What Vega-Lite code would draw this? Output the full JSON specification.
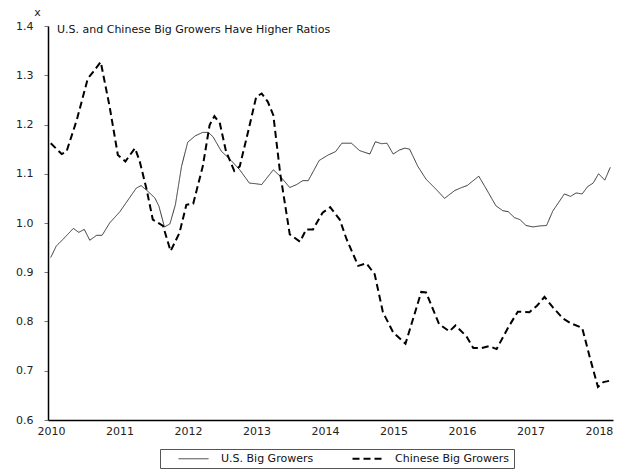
{
  "$schema": "https://vega.github.io/schema/vega-lite/v6.json",
  "width": 565,
  "height": 394,
  "autosize": {"type": "none"},
  "padding": {"left": 48, "top": 26, "right": 5, "bottom": 51},
  "background": "white",
  "title": {
    "text": "U.S. and Chinese Big Growers Have Higher Ratios",
    "anchor": "start",
    "frame": "group",
    "orient": "top",
    "offset": 0,
    "baseline": "top",
    "dx": 9,
    "dy": 29,
    "font": "DejaVu Sans",
    "fontSize": 11,
    "fontWeight": "normal",
    "color": "#111"
  },
  "config": {
    "view": {"stroke": null},
    "font": "DejaVu Sans"
  },
  "data": {
    "values": [
      {"s": "U.S. Big Growers", "t": 2010.04, "v": 0.930},
      {"s": "U.S. Big Growers", "t": 2010.12, "v": 0.953},
      {"s": "U.S. Big Growers", "t": 2010.22, "v": 0.967},
      {"s": "U.S. Big Growers", "t": 2010.37, "v": 0.989},
      {"s": "U.S. Big Growers", "t": 2010.45, "v": 0.981},
      {"s": "U.S. Big Growers", "t": 2010.53, "v": 0.987},
      {"s": "U.S. Big Growers", "t": 2010.61, "v": 0.965},
      {"s": "U.S. Big Growers", "t": 2010.71, "v": 0.975},
      {"s": "U.S. Big Growers", "t": 2010.79, "v": 0.975},
      {"s": "U.S. Big Growers", "t": 2010.90, "v": 1.000},
      {"s": "U.S. Big Growers", "t": 2011.05, "v": 1.023},
      {"s": "U.S. Big Growers", "t": 2011.14, "v": 1.041},
      {"s": "U.S. Big Growers", "t": 2011.29, "v": 1.071},
      {"s": "U.S. Big Growers", "t": 2011.36, "v": 1.076},
      {"s": "U.S. Big Growers", "t": 2011.46, "v": 1.064},
      {"s": "U.S. Big Growers", "t": 2011.56, "v": 1.051},
      {"s": "U.S. Big Growers", "t": 2011.62, "v": 1.034},
      {"s": "U.S. Big Growers", "t": 2011.70, "v": 0.992},
      {"s": "U.S. Big Growers", "t": 2011.78, "v": 0.998},
      {"s": "U.S. Big Growers", "t": 2011.86, "v": 1.037},
      {"s": "U.S. Big Growers", "t": 2011.95, "v": 1.115},
      {"s": "U.S. Big Growers", "t": 2012.04, "v": 1.164},
      {"s": "U.S. Big Growers", "t": 2012.15, "v": 1.177},
      {"s": "U.S. Big Growers", "t": 2012.26, "v": 1.184},
      {"s": "U.S. Big Growers", "t": 2012.34, "v": 1.184},
      {"s": "U.S. Big Growers", "t": 2012.41, "v": 1.175},
      {"s": "U.S. Big Growers", "t": 2012.53, "v": 1.146},
      {"s": "U.S. Big Growers", "t": 2012.68, "v": 1.126},
      {"s": "U.S. Big Growers", "t": 2012.80, "v": 1.108},
      {"s": "U.S. Big Growers", "t": 2012.94, "v": 1.081},
      {"s": "U.S. Big Growers", "t": 2013.02, "v": 1.080},
      {"s": "U.S. Big Growers", "t": 2013.12, "v": 1.078},
      {"s": "U.S. Big Growers", "t": 2013.29, "v": 1.108},
      {"s": "U.S. Big Growers", "t": 2013.39, "v": 1.095},
      {"s": "U.S. Big Growers", "t": 2013.53, "v": 1.072},
      {"s": "U.S. Big Growers", "t": 2013.63, "v": 1.078},
      {"s": "U.S. Big Growers", "t": 2013.72, "v": 1.086},
      {"s": "U.S. Big Growers", "t": 2013.80, "v": 1.086},
      {"s": "U.S. Big Growers", "t": 2013.96, "v": 1.127},
      {"s": "U.S. Big Growers", "t": 2014.09, "v": 1.138},
      {"s": "U.S. Big Growers", "t": 2014.20, "v": 1.145},
      {"s": "U.S. Big Growers", "t": 2014.29, "v": 1.162},
      {"s": "U.S. Big Growers", "t": 2014.43, "v": 1.162},
      {"s": "U.S. Big Growers", "t": 2014.55, "v": 1.147},
      {"s": "U.S. Big Growers", "t": 2014.70, "v": 1.140},
      {"s": "U.S. Big Growers", "t": 2014.78, "v": 1.165},
      {"s": "U.S. Big Growers", "t": 2014.87, "v": 1.161},
      {"s": "U.S. Big Growers", "t": 2014.95, "v": 1.162},
      {"s": "U.S. Big Growers", "t": 2015.04, "v": 1.140},
      {"s": "U.S. Big Growers", "t": 2015.13, "v": 1.148},
      {"s": "U.S. Big Growers", "t": 2015.21, "v": 1.152},
      {"s": "U.S. Big Growers", "t": 2015.28, "v": 1.150},
      {"s": "U.S. Big Growers", "t": 2015.40, "v": 1.115},
      {"s": "U.S. Big Growers", "t": 2015.52, "v": 1.089},
      {"s": "U.S. Big Growers", "t": 2015.67, "v": 1.068},
      {"s": "U.S. Big Growers", "t": 2015.79, "v": 1.050},
      {"s": "U.S. Big Growers", "t": 2015.94, "v": 1.066},
      {"s": "U.S. Big Growers", "t": 2016.04, "v": 1.072},
      {"s": "U.S. Big Growers", "t": 2016.12, "v": 1.076},
      {"s": "U.S. Big Growers", "t": 2016.29, "v": 1.095},
      {"s": "U.S. Big Growers", "t": 2016.40, "v": 1.069},
      {"s": "U.S. Big Growers", "t": 2016.54, "v": 1.035},
      {"s": "U.S. Big Growers", "t": 2016.64, "v": 1.025},
      {"s": "U.S. Big Growers", "t": 2016.72, "v": 1.023},
      {"s": "U.S. Big Growers", "t": 2016.81, "v": 1.011},
      {"s": "U.S. Big Growers", "t": 2016.89, "v": 1.007},
      {"s": "U.S. Big Growers", "t": 2016.98, "v": 0.995},
      {"s": "U.S. Big Growers", "t": 2017.08, "v": 0.992},
      {"s": "U.S. Big Growers", "t": 2017.18, "v": 0.994},
      {"s": "U.S. Big Growers", "t": 2017.28, "v": 0.995},
      {"s": "U.S. Big Growers", "t": 2017.37, "v": 1.024},
      {"s": "U.S. Big Growers", "t": 2017.54, "v": 1.059},
      {"s": "U.S. Big Growers", "t": 2017.63, "v": 1.054},
      {"s": "U.S. Big Growers", "t": 2017.71, "v": 1.061},
      {"s": "U.S. Big Growers", "t": 2017.80, "v": 1.059},
      {"s": "U.S. Big Growers", "t": 2017.88, "v": 1.074},
      {"s": "U.S. Big Growers", "t": 2017.96, "v": 1.081},
      {"s": "U.S. Big Growers", "t": 2018.04, "v": 1.100},
      {"s": "U.S. Big Growers", "t": 2018.13, "v": 1.087},
      {"s": "U.S. Big Growers", "t": 2018.21, "v": 1.113},
      {"s": "Chinese Big Growers", "t": 2010.04, "v": 1.162},
      {"s": "Chinese Big Growers", "t": 2010.20, "v": 1.140},
      {"s": "Chinese Big Growers", "t": 2010.27, "v": 1.145},
      {"s": "Chinese Big Growers", "t": 2010.42, "v": 1.209},
      {"s": "Chinese Big Growers", "t": 2010.58, "v": 1.293},
      {"s": "Chinese Big Growers", "t": 2010.66, "v": 1.307},
      {"s": "Chinese Big Growers", "t": 2010.77, "v": 1.327},
      {"s": "Chinese Big Growers", "t": 2010.90, "v": 1.236},
      {"s": "Chinese Big Growers", "t": 2011.02, "v": 1.138},
      {"s": "Chinese Big Growers", "t": 2011.13, "v": 1.125},
      {"s": "Chinese Big Growers", "t": 2011.27, "v": 1.152},
      {"s": "Chinese Big Growers", "t": 2011.34, "v": 1.125},
      {"s": "Chinese Big Growers", "t": 2011.44, "v": 1.068},
      {"s": "Chinese Big Growers", "t": 2011.53, "v": 1.007},
      {"s": "Chinese Big Growers", "t": 2011.68, "v": 0.994},
      {"s": "Chinese Big Growers", "t": 2011.79, "v": 0.943},
      {"s": "Chinese Big Growers", "t": 2011.92, "v": 0.980},
      {"s": "Chinese Big Growers", "t": 2012.02, "v": 1.037},
      {"s": "Chinese Big Growers", "t": 2012.12, "v": 1.039},
      {"s": "Chinese Big Growers", "t": 2012.26, "v": 1.115},
      {"s": "Chinese Big Growers", "t": 2012.36, "v": 1.199},
      {"s": "Chinese Big Growers", "t": 2012.43, "v": 1.217},
      {"s": "Chinese Big Growers", "t": 2012.51, "v": 1.202},
      {"s": "Chinese Big Growers", "t": 2012.60, "v": 1.145},
      {"s": "Chinese Big Growers", "t": 2012.72, "v": 1.106},
      {"s": "Chinese Big Growers", "t": 2012.80, "v": 1.115},
      {"s": "Chinese Big Growers", "t": 2012.94, "v": 1.196},
      {"s": "Chinese Big Growers", "t": 2013.04, "v": 1.256},
      {"s": "Chinese Big Growers", "t": 2013.12, "v": 1.263},
      {"s": "Chinese Big Growers", "t": 2013.21, "v": 1.246},
      {"s": "Chinese Big Growers", "t": 2013.29, "v": 1.219},
      {"s": "Chinese Big Growers", "t": 2013.39, "v": 1.101},
      {"s": "Chinese Big Growers", "t": 2013.53, "v": 0.977},
      {"s": "Chinese Big Growers", "t": 2013.68, "v": 0.962},
      {"s": "Chinese Big Growers", "t": 2013.77, "v": 0.987},
      {"s": "Chinese Big Growers", "t": 2013.87, "v": 0.987},
      {"s": "Chinese Big Growers", "t": 2014.01, "v": 1.021},
      {"s": "Chinese Big Growers", "t": 2014.12, "v": 1.032},
      {"s": "Chinese Big Growers", "t": 2014.26, "v": 1.007},
      {"s": "Chinese Big Growers", "t": 2014.36, "v": 0.967},
      {"s": "Chinese Big Growers", "t": 2014.53, "v": 0.913},
      {"s": "Chinese Big Growers", "t": 2014.65, "v": 0.918},
      {"s": "Chinese Big Growers", "t": 2014.77, "v": 0.896},
      {"s": "Chinese Big Growers", "t": 2014.89, "v": 0.819},
      {"s": "Chinese Big Growers", "t": 2015.04, "v": 0.778},
      {"s": "Chinese Big Growers", "t": 2015.22, "v": 0.755},
      {"s": "Chinese Big Growers", "t": 2015.33, "v": 0.805},
      {"s": "Chinese Big Growers", "t": 2015.45, "v": 0.860},
      {"s": "Chinese Big Growers", "t": 2015.52, "v": 0.859},
      {"s": "Chinese Big Growers", "t": 2015.71, "v": 0.795},
      {"s": "Chinese Big Growers", "t": 2015.86, "v": 0.780},
      {"s": "Chinese Big Growers", "t": 2015.95, "v": 0.792},
      {"s": "Chinese Big Growers", "t": 2016.11, "v": 0.770},
      {"s": "Chinese Big Growers", "t": 2016.21, "v": 0.746},
      {"s": "Chinese Big Growers", "t": 2016.33, "v": 0.746},
      {"s": "Chinese Big Growers", "t": 2016.44, "v": 0.750},
      {"s": "Chinese Big Growers", "t": 2016.55, "v": 0.744},
      {"s": "Chinese Big Growers", "t": 2016.72, "v": 0.788},
      {"s": "Chinese Big Growers", "t": 2016.86, "v": 0.820},
      {"s": "Chinese Big Growers", "t": 2017.03, "v": 0.819},
      {"s": "Chinese Big Growers", "t": 2017.14, "v": 0.832},
      {"s": "Chinese Big Growers", "t": 2017.25, "v": 0.850},
      {"s": "Chinese Big Growers", "t": 2017.37, "v": 0.829},
      {"s": "Chinese Big Growers", "t": 2017.52, "v": 0.806},
      {"s": "Chinese Big Growers", "t": 2017.64, "v": 0.796},
      {"s": "Chinese Big Growers", "t": 2017.80, "v": 0.787},
      {"s": "Chinese Big Growers", "t": 2017.91, "v": 0.728},
      {"s": "Chinese Big Growers", "t": 2018.03, "v": 0.667},
      {"s": "Chinese Big Growers", "t": 2018.11, "v": 0.677},
      {"s": "Chinese Big Growers", "t": 2018.21, "v": 0.680}
    ]
  },
  "mark": {"type": "line", "interpolate": "linear", "clip": false},
  "encoding": {
    "x": {
      "field": "t",
      "type": "quantitative",
      "scale": {"domain": [2010, 2018.25], "nice": false, "zero": false},
      "axis": {
        "title": null,
        "values": [2010, 2011, 2012, 2013, 2014, 2015, 2016, 2017, 2018],
        "format": "d",
        "ticks": false,
        "grid": false,
        "domainColor": "#000",
        "domainWidth": 1.5,
        "labelFont": "DejaVu Sans",
        "labelFontSize": 11,
        "labelColor": "#222",
        "labelPadding": 5,
        "labelOffset": 3,
        "labelFlush": false,
        "labelOverlap": false
      }
    },
    "y": {
      "field": "v",
      "type": "quantitative",
      "scale": {"domain": [0.6, 1.4], "nice": false, "zero": false},
      "axis": {
        "title": "x",
        "titleAngle": 0,
        "titleX": -11,
        "titleY": -14,
        "titleAlign": "center",
        "titleBaseline": "middle",
        "titleFont": "DejaVu Sans",
        "titleFontWeight": "normal",
        "titleFontSize": 11,
        "titleColor": "#222",
        "values": [0.6, 0.7, 0.8, 0.9, 1.0, 1.1, 1.2, 1.3, 1.4],
        "format": ".1f",
        "grid": false,
        "tickSize": 4,
        "tickColor": "#777",
        "domainColor": "#000",
        "domainWidth": 1.5,
        "labelFont": "DejaVu Sans",
        "labelFontSize": 11,
        "labelColor": "#222",
        "labelPadding": 11,
        "labelFlush": false,
        "labelOverlap": false
      }
    },
    "strokeDash": {
      "field": "s",
      "type": "nominal",
      "scale": {"domain": ["U.S. Big Growers", "Chinese Big Growers"], "range": [[1, 0], [7, 4]]},
      "legend": {
        "orient": "none",
        "legendX": 112,
        "legendY": 423,
        "direction": "horizontal",
        "title": null,
        "strokeColor": "#555",
        "fillColor": "white",
        "padding": 4,
        "symbolType": "stroke",
        "symbolSize": 900,
        "symbolOffset": 24,
        "labelFont": "DejaVu Sans",
        "labelFontSize": 11,
        "labelColor": "#111",
        "labelOffset": 22,
        "columnPadding": 24,
        "encode": {
          "symbols": {
            "update": {
              "strokeWidth": {"signal": "datum.value === 'Chinese Big Growers' ? 2 : 1"}
            }
          }
        }
      }
    },
    "color": {
      "field": "s",
      "type": "nominal",
      "scale": {"domain": ["U.S. Big Growers", "Chinese Big Growers"], "range": ["#333333", "#000000"]}
    },
    "strokeWidth": {
      "condition": {"test": "datum.s === 'Chinese Big Growers'", "value": 2},
      "value": 1
    }
  }
}
